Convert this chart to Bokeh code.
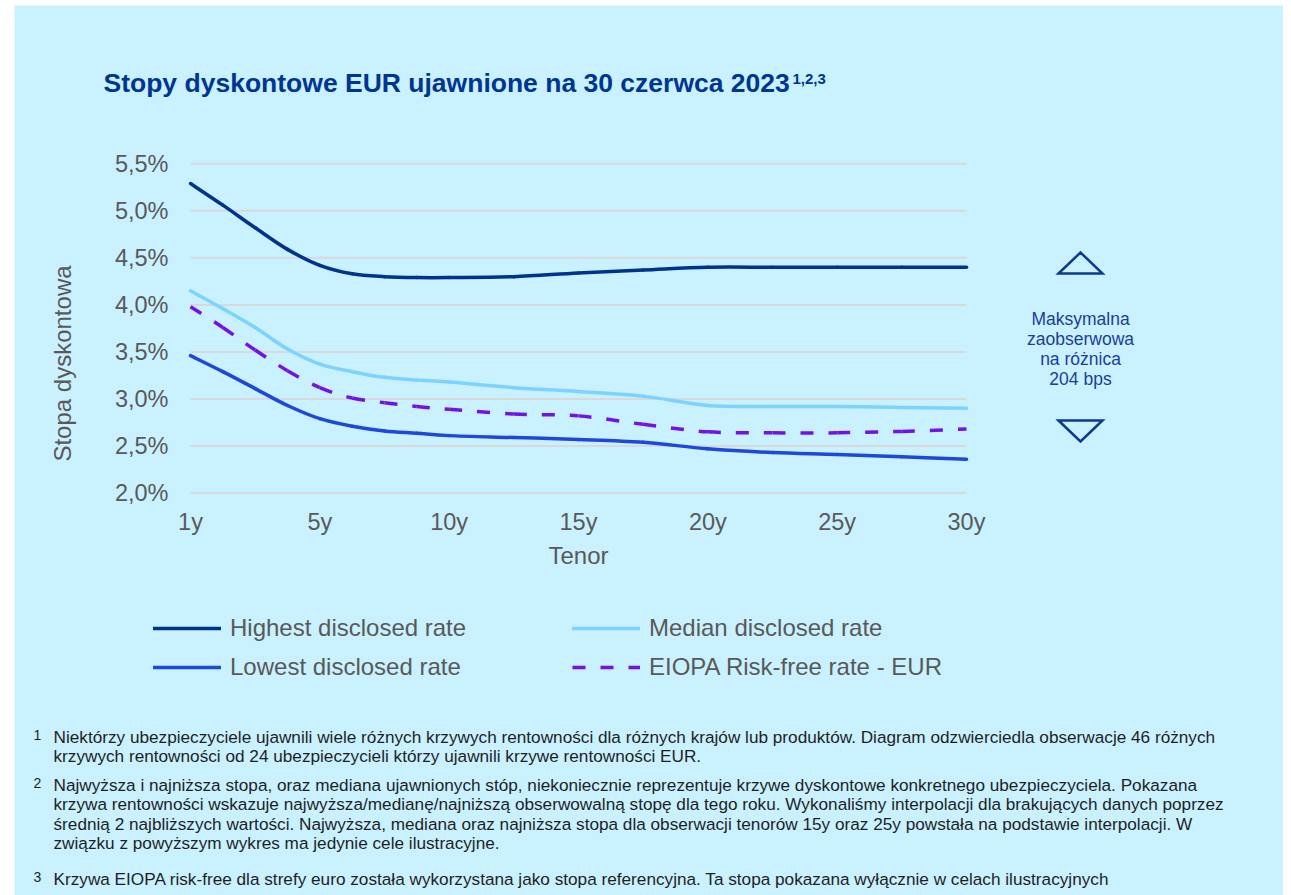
from bokeh.plotting import figure
from bokeh.models import Range1d, FixedTicker, Label, Legend, LegendItem, Spacer
from bokeh.layouts import column, row
from bokeh.embed import file_html
from bokeh.resources import INLINE
import math

# ---- data -----------------------------------------------------------------
tenor_labels = ["1y", "5y", "10y", "15y", "20y", "25y", "30y"]
tenor_ticks = [0, 1, 2, 3, 4, 5, 6]

# positions along the tenor axis (0 = 1y ... 6 = 30y) at which the curves are sampled
curve_pos = [0, 0.25, 0.5, 0.75, 1, 1.25, 1.5, 1.75, 2, 2.5, 3, 3.5, 4, 4.5, 5, 5.5, 6]

highest_rate = [5.29, 5.06, 4.82, 4.59, 4.42, 4.33, 4.30, 4.29, 4.29, 4.30, 4.34, 4.37, 4.40, 4.40, 4.40, 4.40, 4.40]
median_rate = [4.15, 3.96, 3.76, 3.53, 3.37, 3.29, 3.23, 3.20, 3.18, 3.12, 3.08, 3.03, 2.93, 2.92, 2.92, 2.91, 2.90]
lowest_rate = [3.46, 3.29, 3.11, 2.93, 2.79, 2.71, 2.66, 2.635, 2.61, 2.59, 2.57, 2.54, 2.47, 2.43, 2.41, 2.385, 2.36]
eiopa_rate = [3.98, 3.76, 3.52, 3.30, 3.12, 3.01, 2.96, 2.92, 2.89, 2.84, 2.82, 2.73, 2.65, 2.64, 2.64, 2.655, 2.68]

rate_ticks = [2.0, 2.5, 3.0, 3.5, 4.0, 4.5, 5.0, 5.5]
rate_tick_labels = ["2,0%", "2,5%", "3,0%", "3,5%", "4,0%", "4,5%", "5,0%", "5,5%"]

max_gap_bps = round((highest_rate[-1] - lowest_rate[-1]) * 100)

footnotes = [
    ("1", [
        "Niektórzy ubezpieczyciele ujawnili wiele różnych krzywych rentowności dla różnych krajów lub produktów. Diagram odzwierciedla obserwacje 46 różnych",
        "krzywych rentowności od 24 ubezpieczycieli którzy ujawnili krzywe rentowności EUR.",
    ]),
    ("2", [
        "Najwyższa i najniższa stopa, oraz mediana ujawnionych stóp, niekoniecznie reprezentuje krzywe dyskontowe konkretnego ubezpieczyciela. Pokazana",
        "krzywa rentowności wskazuje najwyższa/medianę/najniższą obserwowalną stopę dla tego roku. Wykonaliśmy interpolacji dla brakujących danych poprzez",
        "średnią 2 najbliższych wartości. Najwyższa, mediana oraz najniższa stopa dla obserwacji tenorów  15y oraz 25y powstała na podstawie interpolacji. W",
        "związku z powyższym wykres ma jedynie cele ilustracyjne.",
    ]),
    ("3", [
        "Krzywa  EIOPA risk-free dla strefy euro została wykorzystana jako stopa referencyjna. Ta  stopa pokazana wyłącznie w celach ilustracyjnych",
    ]),
]

# ---- styling ----------------------------------------------------------------
BG = "#C9F1FF"
NAVY = "#003591"
FONT = "Liberation Sans"
GREY = "#595959"
NOTE_INK = "#1F1F1F"

# page geometry (pixels): panel origin/size, tenor/rate scale anchors
PANEL_X, PANEL_Y = 14, 5
FIG_W, FIG_H = 1269, 890
X_PX0, X_STEP = 190.0, 129.333     # page x of first tenor, px per tenor step
Y_PX0, Y_STEP = 492.5, 94.06       # page y of lowest rate tick, px per percentage point


def dx(px):
    return tenor_ticks[0] + (px - X_PX0) / X_STEP


def dy(py):
    return rate_ticks[0] + (Y_PX0 - py) / Y_STEP


p = figure(
    width=FIG_W, height=FIG_H,
    x_range=Range1d(dx(PANEL_X), dx(PANEL_X + FIG_W)),
    y_range=Range1d(dy(PANEL_Y + FIG_H), dy(PANEL_Y)),
    min_border=0,
    output_backend="svg", toolbar_location=None,
    background_fill_color=BG, border_fill_color=BG,
    outline_line_color=None,
)
p.xgrid.visible = False
p.ygrid.visible = False

# horizontal gridlines spanning the tenor range only
p.segment(x0=[tenor_ticks[0]] * len(rate_ticks), x1=[tenor_ticks[-1]] * len(rate_ticks),
          y0=rate_ticks, y1=rate_ticks, line_color="#D9D9D9", line_width=2)

# axes pinned at the edges of the plotting region
xa = p.xaxis[0]
xa.ticker = FixedTicker(ticks=tenor_ticks)
xa.major_label_overrides = {t: l for t, l in zip(tenor_ticks, tenor_labels)}
xa.fixed_location = dy(505)
xa.major_label_standoff = 3

ya = p.yaxis[0]
ya.ticker = FixedTicker(ticks=rate_ticks)
ya.major_label_overrides = {t: l for t, l in zip(rate_ticks, rate_tick_labels)}
ya.fixed_location = dx(180)
ya.major_label_standoff = 12

for ax in (xa, ya):
    ax.axis_line_color = None
    ax.major_tick_line_color = None
    ax.minor_tick_line_color = None
    ax.major_tick_out = 0
    ax.major_tick_in = 0
    ax.minor_tick_out = 0
    ax.major_label_text_font = FONT
    ax.major_label_text_font_size = "23.5px"
    ax.major_label_text_color = GREY


def smooth_curve(xs, ys, color, dash="solid", cap="round"):
    """Draw a smoothed line through the points as cubic Bezier segments."""
    n = len(xs)
    x0, y0, x1, y1, cx0, cy0, cx1, cy1 = ([] for _ in range(8))
    for i in range(n - 1):
        xa_, ya_ = xs[max(i - 1, 0)], ys[max(i - 1, 0)]
        xb, yb = xs[i], ys[i]
        xc, yc = xs[i + 1], ys[i + 1]
        xd, yd = xs[min(i + 2, n - 1)], ys[min(i + 2, n - 1)]
        x0.append(xb); y0.append(yb); x1.append(xc); y1.append(yc)
        cx0.append(xb + (xc - xa_) / 6); cy0.append(yb + (yc - ya_) / 6)
        cx1.append(xc - (xd - xb) / 6); cy1.append(yc - (yd - yb) / 6)
    return p.bezier(x0=x0, y0=y0, x1=x1, y1=y1, cx0=cx0, cy0=cy0, cx1=cx1, cy1=cy1,
                    line_color=color, line_width=3.5, line_dash=dash, line_cap=cap)


r_hi = smooth_curve(curve_pos, highest_rate, "#00338D")
r_med = smooth_curve(curve_pos, median_rate, "#7DD3FF")
r_lo = smooth_curve(curve_pos, lowest_rate, "#1E48DC")
r_eio = smooth_curve(curve_pos, eiopa_rate, "#7312E6", dash="13 15", cap="butt")

legend = Legend(
    items=[
        LegendItem(label="Highest disclosed rate", renderers=[r_hi]),
        LegendItem(label="Median disclosed rate", renderers=[r_med]),
        LegendItem(label="Lowest disclosed rate", renderers=[r_lo]),
        LegendItem(label="EIOPA Risk-free rate - EUR", renderers=[r_eio]),
    ],
    orientation="horizontal", ncols=2,
    location=(153 - PANEL_X, (PANEL_Y + FIG_H) - 682),
    glyph_width=68, glyph_height=30, label_height=30, label_standoff=9,
    label_width=333, spacing=9, padding=0, margin=0,
    label_text_font=FONT, label_text_font_size="24px", label_text_color=GREY,
    background_fill_alpha=0, border_line_alpha=0,
)
p.add_layout(legend, "center")

# arrows bracketing the spread note
tri_xs = [[dx(1058), dx(1080), dx(1102)], [dx(1058), dx(1080), dx(1102)]]
tri_ys = [[dy(273), dy(252), dy(273)], [dy(420), dy(441), dy(420)]]
p.patches(tri_xs, tri_ys, fill_alpha=0, line_color="#0B3A8E", line_width=2.5, line_join="miter")

note_lines = ["Maksymalna", "zaobserwowa", "na różnica", f"{max_gap_bps} bps"]
for i, txt in enumerate(note_lines):
    p.add_layout(Label(x=dx(1080), y=dy(318 + 20.2 * i), text=txt, text_align="center",
                       text_baseline="alphabetic", text_font=FONT, text_font_size="17.5px",
                       text_color="#1B3F97"))

# title with footnote references
p.add_layout(Label(x=dx(103), y=dy(82.5), text="Stopy dyskontowe EUR ujawnione na 30 czerwca 2023",
                   text_font=FONT, text_font_size="26.5px", text_font_style="bold",
                   text_color=NAVY, text_baseline="alphabetic"))
p.add_layout(Label(x=dx(792), y=dy(78), text="1,2,3", text_font=FONT, text_font_size="15px",
                   text_font_style="bold", text_color=NAVY, text_baseline="alphabetic"))

# axis titles
p.add_layout(Label(x=dx(62), y=dy(363), text="Stopa dyskontowa", angle=math.pi / 2,
                   text_align="center", text_baseline="middle", text_font=FONT,
                   text_font_size="24px", text_color=GREY))
p.add_layout(Label(x=dx(578), y=dy(555), text="Tenor", text_align="center",
                   text_baseline="alphabetic", text_font=FONT,
                   text_font_size="24px", text_color=GREY))

# footnotes
baselines = [[736, 755], [784, 803, 823, 842], [878]]
for (num, lines), bls in zip(footnotes, baselines):
    p.add_layout(Label(x=dx(33), y=dy(bls[0] - 2), text=num, text_font=FONT, text_font_size="14px",
                       text_color=NOTE_INK, text_baseline="alphabetic"))
    for txt, bl in zip(lines, bls):
        p.add_layout(Label(x=dx(53), y=dy(bl), text=txt, text_font=FONT, text_font_size="17.2px",
                           text_color=NOTE_INK, text_baseline="alphabetic"))

layout = column(Spacer(height=PANEL_Y, width=FIG_W + PANEL_X),
                row(Spacer(width=PANEL_X, height=FIG_H), p))

with open("out.html", "w") as f:
    f.write(file_html(layout, INLINE))
